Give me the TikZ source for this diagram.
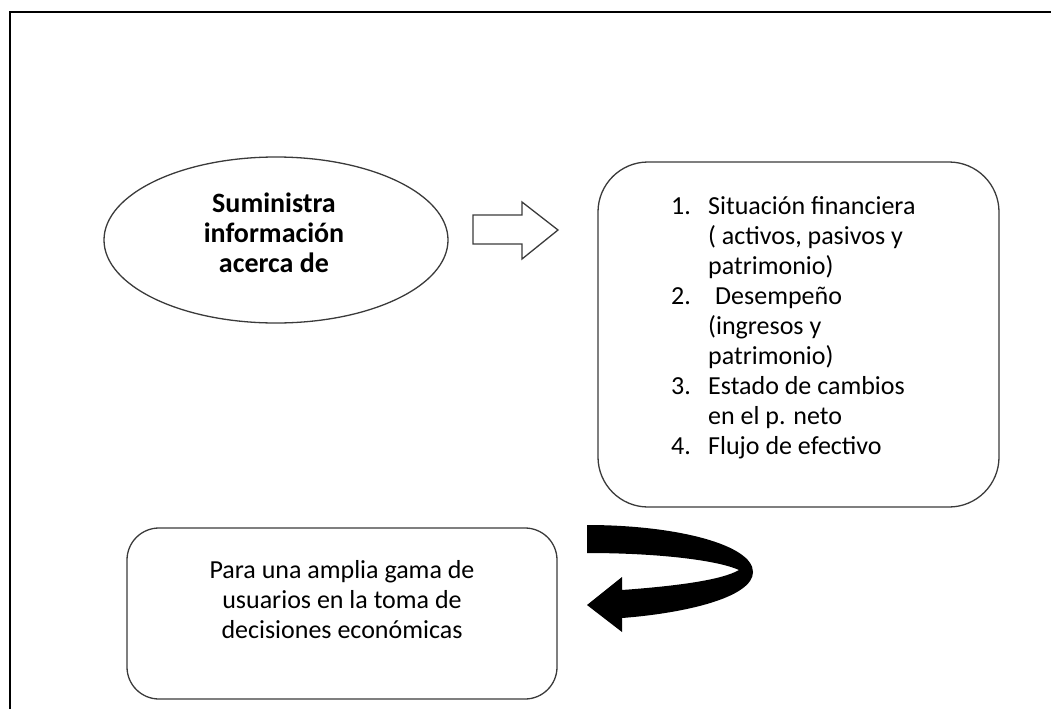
\documentclass[tikz,border=0pt]{standalone}
\usepackage{fontspec}
\setmainfont{Carlito}
\usetikzlibrary{shapes.geometric}
\usepackage{xcolor}

\definecolor{linea}{HTML}{3A3A3A}

\begin{document}
\begin{tikzpicture}[x=1pt,y=-1pt,
  caja/.style={draw=linea, line width=1.3pt, rounded corners=#1},
  texto/.style={font=\fontsize{26}{30}\selectfont, text=black, inner sep=0pt}]

\useasboundingbox (0,0) rectangle (1051,709);

% Draw the open frame (cut at bottom and right)
\draw [line width=2.2pt, black] (10,709) -- (10,12) -- (1051,12);

% Ellipse with the bold text
\node [ellipse, draw=linea, line width=1.3pt, minimum width=344pt, minimum height=166pt,
       inner sep=0pt] (info) at (276,240) {};
\node [texto, font=\fontsize{28}{30}\selectfont\bfseries, align=center] (suministra) at (274,233)
      {Suministra\\información\\acerca de};

% Hollow block arrow
\coordinate (flecha) at (473,230);
\draw [draw=linea, line width=1.3pt, shift={(flecha)}]
      (0,-15) -- (49,-15) -- (49,-28) -- (85,0) -- (49,29) -- (49,14) -- (0,14) -- cycle;

% Box with the list of statements
\node [caja=50pt, minimum width=401pt, minimum height=345pt] (estados) at (798.5,334.5) {};
\node [texto, align=left, anchor=north west] (lista) at (671,196)
      {\makebox[37pt][l]{1.}Situación financiera\\
       \hspace*{37pt}( activos, pasivos y\\
       \hspace*{37pt}patrimonio)\\
       \makebox[37pt][l]{2.}\hspace*{7pt}Desempeño\\
       \hspace*{37pt}(ingresos y\\
       \hspace*{37pt}patrimonio)\\
       \makebox[37pt][l]{3.}Estado de cambios\\
       \hspace*{37pt}en el p. neto\\
       \makebox[37pt][l]{4.}Flujo de efectivo};

% Black U-turn arrow
\coordinate (vuelta) at (587,525);
\fill [black, shift={(vuelta)}]
      (0,0) .. controls (90,0) and (166,20) .. (166,47)
      .. controls (166,72) and (100,88) .. (35,93)
      -- (35,107) -- (0,80) -- (35,52) -- (35,65)
      .. controls (90,61) and (135,55) .. (152,45)
      .. controls (130,35) and (70,28) .. (0,28) -- cycle;

% Box for the users
\node [caja=32pt, minimum width=430pt, minimum height=171pt] (usuarios) at (342,613.5) {};
\node [texto, align=center] (gama) at (342,600)
      {Para una amplia gama de\\usuarios en la toma de\\decisiones económicas};

\end{tikzpicture}
\end{document}
